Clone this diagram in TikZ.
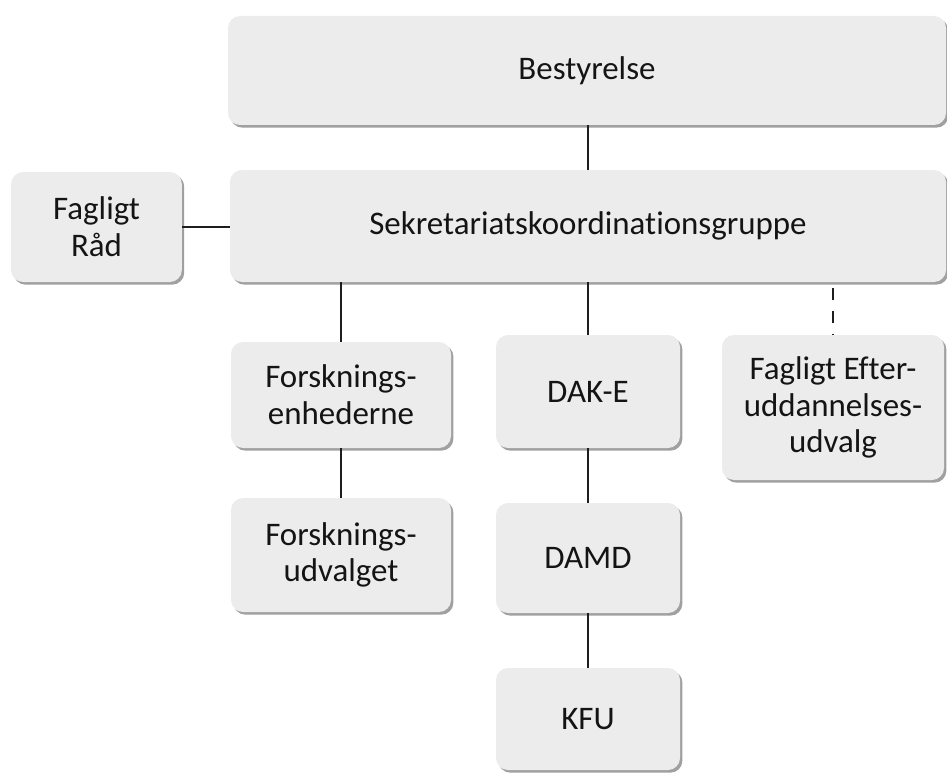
\documentclass[tikz,border=0pt]{standalone}
\usepackage{fontspec}
\setmainfont{Carlito}[Ligatures=NoCommon]
\usetikzlibrary{shadows}
\definecolor{boxgray}{RGB}{236,236,236}
\definecolor{shadowgray}{RGB}{150,150,150}
\definecolor{linedark}{RGB}{30,30,30}
\definecolor{textdark}{RGB}{20,20,20}
\begin{document}
\begin{tikzpicture}[x=0.75pt,y=-0.75pt,
  box/.style={fill=boxgray, rounded corners=9pt, align=center,
    font=\fontsize{24.7}{27.5}\selectfont, text=textdark, inner sep=0pt,
    drop shadow={shadow xshift=1.8pt, shadow yshift=-2pt, fill=shadowgray, opacity=0.9}},
  link/.style={line width=1.4pt, draw=linedark},
  dlink/.style={link, dash pattern=on 9pt off 8pt}]
\useasboundingbox (0,0) rectangle (947,774);
\node[box, minimum width=538.5pt, minimum height=81.75pt] (best) at (587,70.5) {Bestyrelse};
\node[box, minimum width=537pt, minimum height=84pt] (sek) at (588,226) {Sekretariatskoordinationsgruppe};
\node[box, minimum width=128pt, minimum height=82.5pt] (raad) at (96.5,227) {Fagligt\\Råd};
\node[box, minimum width=165pt, minimum height=79.5pt] (fenh) at (341,395) {Forsknings-\\enhederne};
\node[box, minimum width=165pt, minimum height=85.5pt] (fudv) at (341,555) {Forsknings-\\udvalget};
\node[box, minimum width=138pt, minimum height=84.75pt] (dake) at (588,391.5) {DAK-E};
\node[box, minimum width=138pt, minimum height=82.5pt] (damd) at (588,558) {DAMD};
\node[box, minimum width=138pt, minimum height=76.5pt] (kfu) at (588,719) {KFU};
\node[box, minimum width=166.5pt, minimum height=108.75pt] (fe) at (833,407.5) {Fagligt Efter-\\uddannelses-\\udvalg};
\draw[link] (best.south -| sek.north) -- (sek.north);
\draw[link] (raad.east) -- (raad.east -| sek.west);
\draw[link] (sek.south -| fenh.north) -- (fenh.north);
\draw[link] (fenh.south) -- (fudv.north);
\draw[link] (sek.south -| dake.north) -- (dake.north);
\draw[link] (dake.south) -- (damd.north);
\draw[link] (damd.south) -- (kfu.north);
\draw[dlink, shorten <=4.5pt] (fe.north |- sek.south) -- (fe.north);
\end{tikzpicture}
\end{document}
